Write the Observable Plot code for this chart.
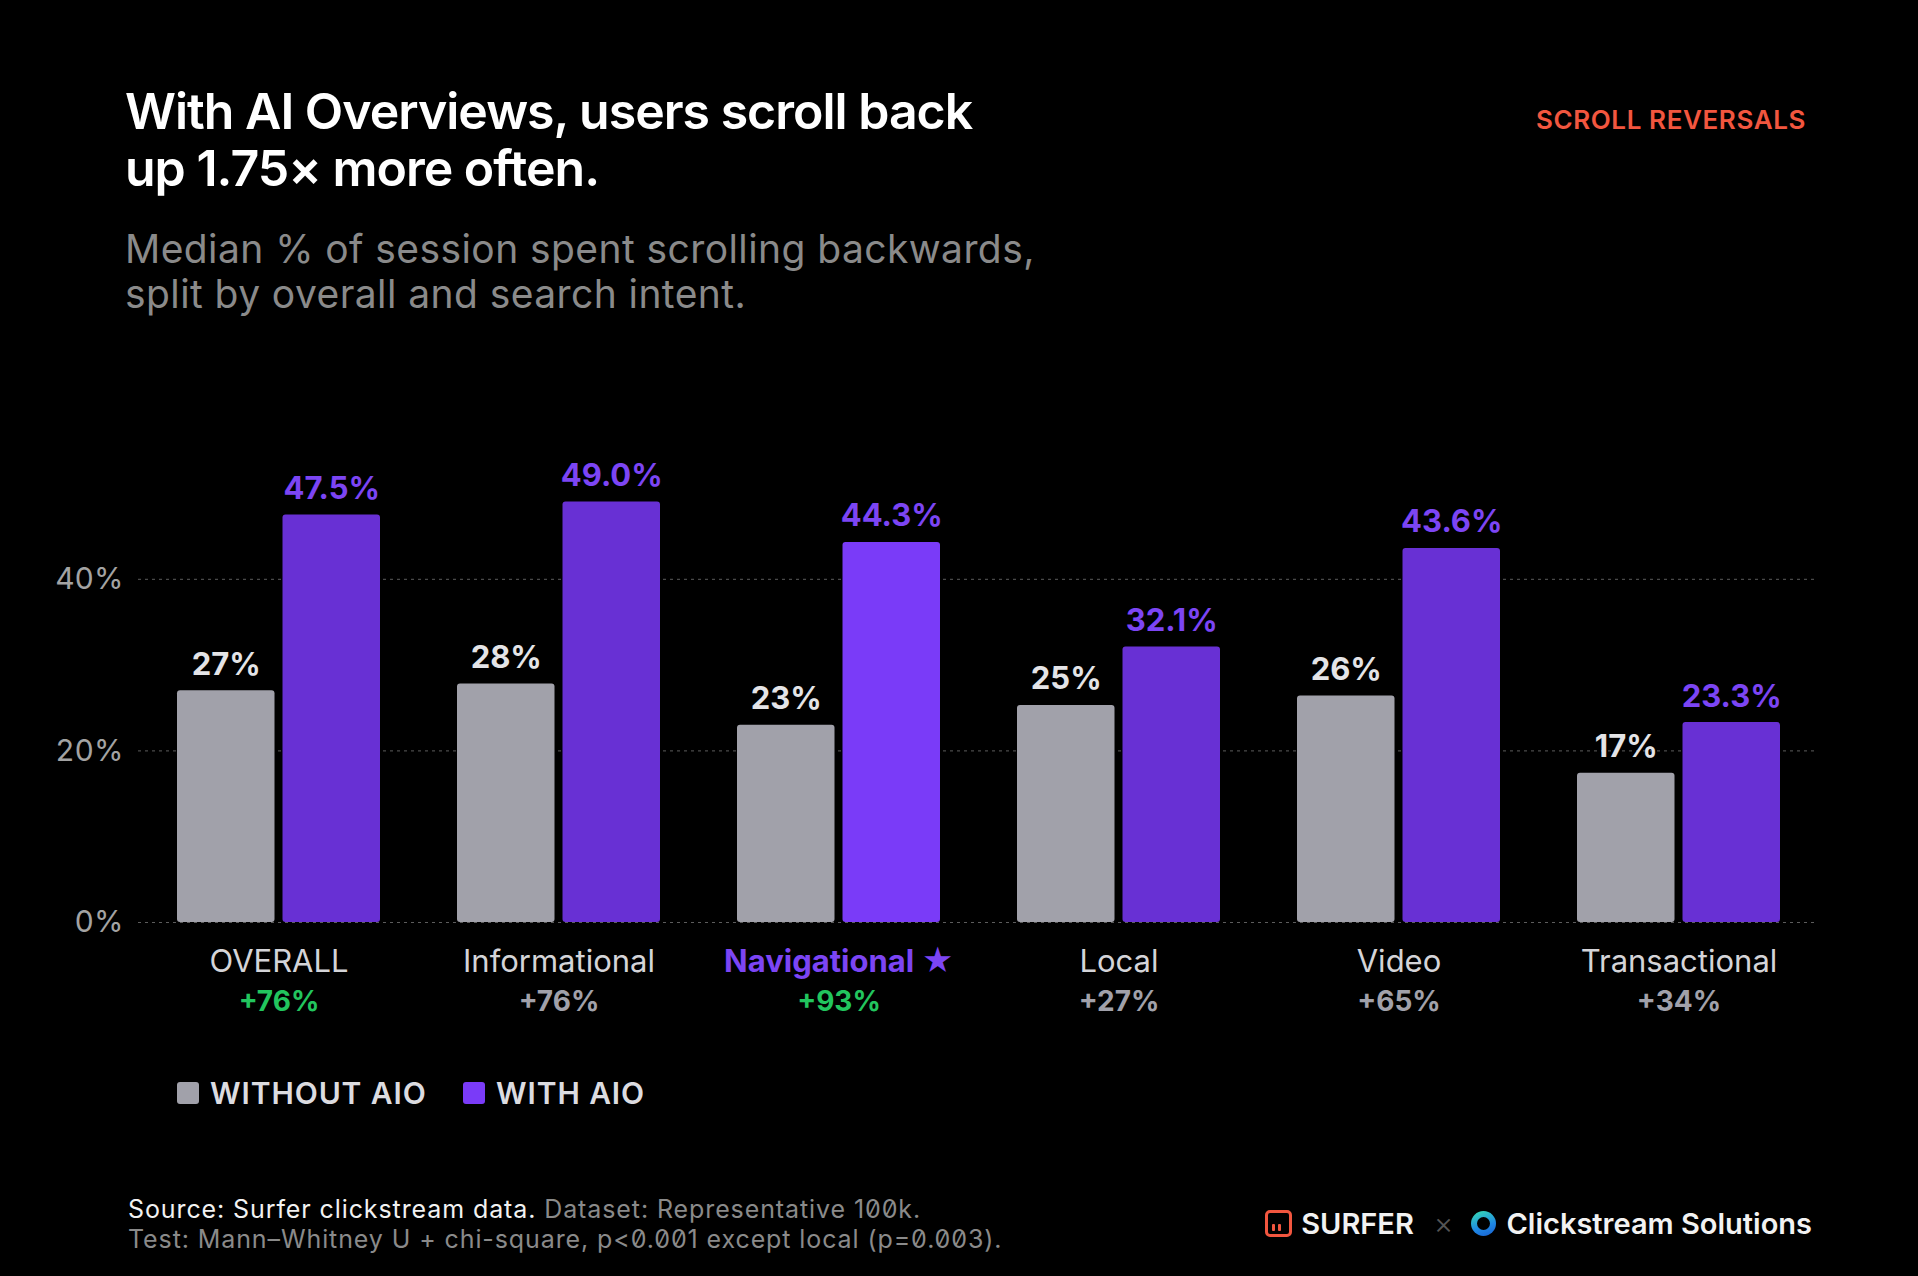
<!DOCTYPE html>
<html>
<head>
<meta charset="utf-8">
<script src="https://cdn.jsdelivr.net/npm/d3@7"></script>
<script src="https://cdn.jsdelivr.net/npm/@observablehq/plot@0.6"></script>
<style>
  html, body { margin: 0; padding: 0; background: #000; }
  body { width: 1918px; height: 1276px; position: relative; overflow: hidden;
         font-family: Inter, "Noto Sans", sans-serif; color: #fff; }
  .abs { position: absolute; white-space: nowrap; }
  #title { left: 125px; top: 83px; font-size: 50px; line-height: 57px; font-weight: 600; letter-spacing: -1.0px; color: #fff; }
  #subtitle { left: 125px; top: 226px; font-size: 39px; line-height: 45px; font-weight: 400; color: #8a8a8a; letter-spacing: 0.42px; }
  #kicker { right: 112px; top: 105px; font-size: 26px; line-height: 30px; font-weight: 600; color: #f2563f; letter-spacing: 0.6px; }
  #chart { position: absolute; left: 0; top: 380px; }
  .sw { position: absolute; width: 22px; height: 22px; border-radius: 3px; }
  .lg { font-size: 30px; line-height: 35px; font-weight: 600; color: #dcdce0; letter-spacing: 0.9px; }
  #foot { left: 128px; top: 1194px; font-size: 25px; line-height: 30px; color: #8a8a8a; letter-spacing: 0.9px; font-feature-settings: "zero" 1; }
  #foot b { font-weight: 400; color: #f2f2f2; }
  #brand { right: 106px; top: 1203px; height: 40px; display: flex; align-items: center; font-size: 29px; font-weight: 600; color: #f2f2f2; }
  .surf { width: 21px; height: 21px; border: 3px solid #f2563f; border-radius: 5px; position: relative; margin-right: 9px; }
  .surf i { position: absolute; bottom: 3px; width: 3px; background: #f2563f; border-radius: 1px; }
  .ring { width: 25px; height: 25px; border-radius: 50%; background: linear-gradient(160deg, #38e0b0, #1e88e5 60%, #1a5fd0); position: relative; margin-right: 10px; }
  .ring::after { content: ""; position: absolute; left: 6px; top: 6px; width: 13px; height: 13px; border-radius: 50%; background: #000; }
  .times { color: #555; font-weight: 300; margin: 0 18px 0 20px; font-size: 30px; }
</style>
</head>
<body>
<div id="title" class="abs">With AI Overviews, users scroll back<br>up 1.75× more often.</div>
<div id="subtitle" class="abs">Median % of session spent scrolling backwards,<br>split by overall and search intent.</div>
<div id="kicker" class="abs">SCROLL REVERSALS</div>
<div id="chart"></div>

<div class="sw" style="left:177px; top:1082px; background:#a1a1aa;"></div>
<div class="abs lg" style="left:210px; top:1076px;">WITHOUT AIO</div>
<div class="sw" style="left:463px; top:1082px; background:#7a3bf8;"></div>
<div class="abs lg" style="left:496px; top:1076px;">WITH AIO</div>

<div id="foot" class="abs"><b>Source: Surfer clickstream data.</b> Dataset: Representative 100k.<br>Test: Mann–Whitney U + chi-square, p&lt;0.001 except local (p=0.003).</div>

<div id="brand" class="abs">
  <div class="surf"><i style="left:4px;height:7px;"></i><i style="left:10px;height:7px;"></i></div>
  <span>SURFER</span>
  <span class="times">×</span>
  <div class="ring"></div>
  <span>Clickstream Solutions</span>
</div>

<script>
const categories = ["OVERALL", "Informational", "Navigational ★", "Local", "Video", "Transactional"];
const withoutAIO = [27.0, 27.8, 23.0, 25.3, 26.4, 17.4];
const withAIO = [47.5, 49.0, 44.3, 32.1, 43.6, 23.3];
const changePct = [76, 76, 93, 27, 65, 34];
const highlightCategory = [false, false, true, false, false, false];
const highlightChange = [true, false, true, false, false, false];
const yTicks = [0, 20, 40];

const rows = categories.map((c, i) => ({
  cat: c,
  without: withoutAIO[i],
  with: withAIO[i],
  change: changePct[i],
  hl: highlightCategory[i],
  hlChange: highlightChange[i]
}));

const GRAY = "#a1a1aa", PURPLE = "#6830d4", PURPLE_HI = "#7a3bf8", LABEL_PURPLE = "#7c45f4", GREEN = "#22c55e";
const half = 52.75, inset = 105.5;

const chart = Plot.plot({
  width: 1918,
  height: 680,
  marginLeft: 138,
  marginRight: 100,
  marginTop: 113,
  marginBottom: 138,
  style: { background: "transparent", color: "#fff", fontFamily: "Inter, 'Noto Sans', sans-serif", overflow: "visible" },
  x: { domain: categories, paddingInner: 0.275, paddingOuter: 0.1375, axis: null },
  y: { domain: [0, 50], axis: null },
  marks: [
    Plot.gridY(yTicks, { stroke: "#5c5c5c", strokeOpacity: 1, strokeWidth: 1, strokeDasharray: "3,4" }),
    Plot.axisY(yTicks, { tickSize: 0, tickPadding: 15, tickFormat: d => d + "%", fontSize: 30, fill: "#a3a3a3", label: null }),
    Plot.barY(rows, { x: "cat", y: "without", fill: GRAY, insetRight: inset, rx: 3 }),
    Plot.barY(rows, { filter: d => !d.hl, x: "cat", y: "with", fill: PURPLE, insetLeft: inset, rx: 3 }),
    Plot.barY(rows, { filter: d => d.hl, x: "cat", y: "with", fill: PURPLE_HI, insetLeft: inset, rx: 3 }),
    Plot.text(rows, { x: "cat", y: "without", text: d => Math.round(d.without) + "%", dx: -half, dy: -16, lineAnchor: "bottom", fill: "#e4e4e7", fontSize: 31, fontWeight: 700 }),
    Plot.text(rows, { x: "cat", y: "with", text: d => d.with.toFixed(1) + "%", dx: half, dy: -16, lineAnchor: "bottom", fill: LABEL_PURPLE, fontSize: 31, fontWeight: 700 }),
    Plot.text(rows, { filter: d => !d.hl, x: "cat", y: 0, text: "cat", dy: 49, lineAnchor: "bottom", fill: "#d4d4d8", fontSize: 31, fontWeight: 400 }),
    Plot.text(rows, { filter: d => d.hl, x: "cat", y: 0, text: "cat", dy: 49, lineAnchor: "bottom", fill: LABEL_PURPLE, fontSize: 31, fontWeight: 700 }),
    Plot.text(rows, { filter: d => d.hlChange, x: "cat", y: 0, text: d => "+" + d.change + "%", dy: 88, lineAnchor: "bottom", fill: GREEN, fontSize: 28, fontWeight: 700 }),
    Plot.text(rows, { filter: d => !d.hlChange, x: "cat", y: 0, text: d => "+" + d.change + "%", dy: 88, lineAnchor: "bottom", fill: "#a1a1aa", fontSize: 28, fontWeight: 700 })
  ]
});
document.getElementById("chart").appendChild(chart);
</script>
</body>
</html>
